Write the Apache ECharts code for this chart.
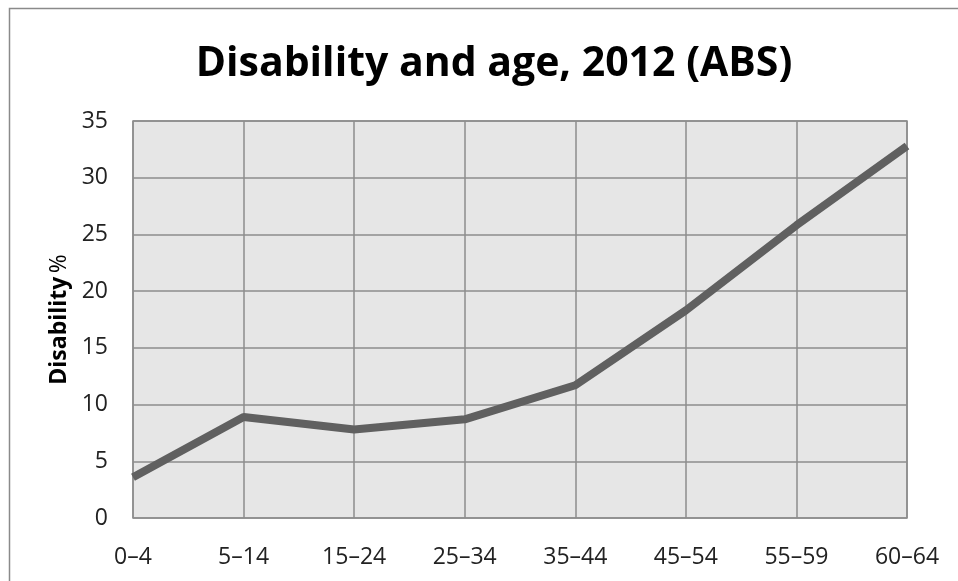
<!DOCTYPE html>
<html><head><meta charset="utf-8">
<script src="https://cdn.jsdelivr.net/npm/echarts@6/dist/echarts.min.js"></script>
<style>html,body{margin:0;padding:0;background:#fff}#c{width:958px;height:581px}</style>
</head><body><div id="c"></div>
<script>
const categories = ['0\u20134','5\u201314','15\u201324','25\u201334','35\u201344','45\u201354','55\u201359','60\u201364'];
const disability = [3.6, 8.9, 7.8, 8.7, 11.7, 18.3, 25.8, 32.8];
const chart = echarts.init(document.getElementById('c'));
chart.setOption({
  animation: false,
  backgroundColor: '#fff',
  graphic: [{type:'rect', shape:{x:9.5,y:8.5,width:1200,height:1200}, style:{fill:'none', stroke:'#8a8a8a', lineWidth:1.5}, z:-1}],
  title: {text:'Disability and age, 2012 (ABS)', left:489, textAlign:'center', top:39,
    textStyle:{fontFamily:'Open Sans', fontWeight:'bold', fontSize:41, color:'#000'}},
  grid: {left:133, right:51, top:121, bottom:63, show:true, backgroundColor:'#e6e6e6', borderColor:'#8c8c8c', borderWidth:1.5},
  xAxis: {type:'category', data:categories, boundaryGap:false,
    axisLine:{show:false}, axisTick:{show:false},
    axisLabel:{margin:28, fontFamily:'Open Sans', fontSize:23, color:'#222'},
    splitLine:{show:true, lineStyle:{color:'#8c8c8c', width:1.5}}},
  yAxis: {type:'value', min:0, max:35, interval:5,
    name:'{b|Disability} {n|%}', nameLocation:'middle', nameGap:60, nameRotate:90,
    nameTextStyle:{rich:{b:{fontFamily:'Open Sans', fontWeight:'bold', fontSize:23, color:'#000'}, n:{fontFamily:'Open Sans', fontSize:23, color:'#000'}}},
    axisLine:{show:false}, axisTick:{show:false},
    axisLabel:{margin:25, fontFamily:'Open Sans', fontSize:23, color:'#222'},
    splitLine:{show:true, lineStyle:{color:'#8c8c8c', width:1.5}}},
  series: [{type:'line', data:disability, showSymbol:false, symbol:'none',
    lineStyle:{color:'#606060', width:8}, itemStyle:{color:'#606060'}}]
});
</script></body></html>
